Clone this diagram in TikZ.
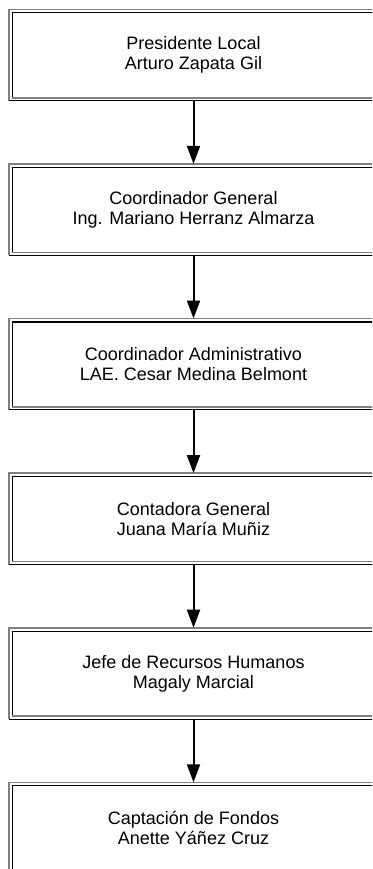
\documentclass[tikz,border=0pt]{standalone}
\usepackage{fontspec}
\setmainfont{Liberation Sans}
\usetikzlibrary{arrows.meta}
\tikzset{
  orgbox/.style={draw=none, minimum width=369bp, minimum height=91bp, inner sep=0pt,
    align=center, font=\fontsize{18bp}{20bp}\selectfont},
  litedge/.style={draw=black!50, line width=1.6bp},
  darkedge/.style={draw=black, line width=1.1bp},
  link/.style={line width=2bp, -{Triangle[length=18bp,width=13bp]}}
}
\begin{document}
\begin{tikzpicture}[x=1bp,y=1bp]
\useasboundingbox (0,0) rectangle (372,-869);
\clip (0,0) rectangle (372,-869);
\node[orgbox] (b1) at (193.5,-55.0) {Presidente Local\\Arturo Zapata Gil};
\node[orgbox] (b2) at (193.5,-209.6) {Coordinador General\\Ing. Mariano Herranz Almarza};
\node[orgbox] (b3) at (193.5,-364.2) {Coordinador Administrativo\\LAE. Cesar Medina Belmont};
\node[orgbox] (b4) at (193.5,-518.8) {Contadora General\\Juana María Muñiz};
\node[orgbox] (b5) at (193.5,-673.4) {Jefe de Recursos Humanos\\Magaly Marcial};
\node[orgbox] (b6) at (193.5,-828.0) {Captación de Fondos\\Anette Yáñez Cruz};
\foreach \b in {b1,b2,b3,b4,b5,b6}{
  % outer frame
  \draw[litedge] (\b.south west) -- (\b.north west) -- (\b.north east);
  \draw[darkedge] (\b.north east) -- (\b.south east) -- (\b.south west);
  % inner frame
  \draw[darkedge] ([shift={(3.5,3)}]\b.south west) -- ([shift={(3.5,-3.5)}]\b.north west) -- ([shift={(-3.5,-3.5)}]\b.north east);
  \draw[litedge] ([shift={(-3.5,-3.5)}]\b.north east) -- ([shift={(-3.5,3)}]\b.south east) -- ([shift={(3.5,3)}]\b.south west);
}
\foreach \a/\c in {b1/b2,b2/b3,b3/b4,b4/b5,b5/b6}{
  \draw[link] (\a.south) -- (\c.north);
}
\end{tikzpicture}
\end{document}
